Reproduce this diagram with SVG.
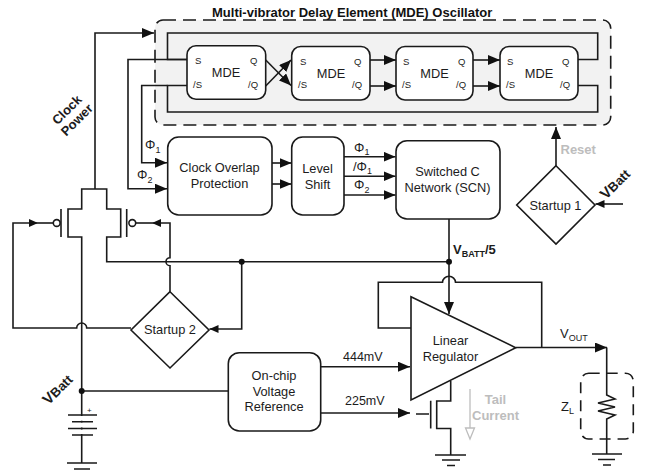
<svg xmlns="http://www.w3.org/2000/svg" width="650" height="473" viewBox="0 0 650 473">
<style>
text{font-family:"Liberation Sans",Arial,sans-serif;fill:#1c1c1c}
.l{font-size:12.800px;text-anchor:middle}
.p{font-size:9.500px}
.b{font-weight:bold}
.g{fill:#bdbdbd;font-weight:bold}
.s{font-size:9px}
.n{fill:#fff;stroke:#1a1a1a;stroke-width:1.600}
.w{fill:none;stroke:#1a1a1a;stroke-width:1.600}
.a{marker-end:url(#ah)}
.m{marker-end:url(#sm)}
.d{fill:none;stroke:#1a1a1a;stroke-width:1.600;stroke-dasharray:13 7}
</style>
<defs>
<marker id="ah" markerUnits="userSpaceOnUse" markerWidth="13" markerHeight="11" refX="12" refY="5" orient="auto"><path d="M0 0L12 5L0 10Z" fill="#111"/></marker>
<marker id="sm" markerUnits="userSpaceOnUse" markerWidth="10" markerHeight="9" refX="9" refY="4" orient="auto"><path d="M0 0L9 4L0 8Z" fill="#111"/></marker>
</defs>
<rect width="650" height="473" fill="#fff"/>
<text x="212" y="16.500" font-size="13" class="b" style="fill:#111">Multi-vibrator Delay Element (MDE) Oscillator</text>
<g id="oscillator-frame"><rect x="155" y="20" width="455.700" height="105" rx="8" fill="#f2f2f2" stroke="none"/><rect x="155" y="20" width="455.700" height="105" rx="8" class="d"/></g>
<g id="connectors">
<path class="w" d="M187 59.500H167.500V33H597.700V59.500H578M187 85.500H167.500V112H597.700V85.500H578"/>
<path class="w a" d="M187 59.500H128V188.700H167"/>
<path class="w a" d="M167.500 85.500H141.700V162.700H167"/>
<path class="w a" d="M95 189V33H154"/>
<path class="w a" d="M265.700 60L291 85.500"/>
<path class="w a" d="M265.700 86L291 60"/>
<path class="w a" d="M370 60H396"/><path class="w a" d="M370 86H396"/>
<path class="w a" d="M473 60H500"/><path class="w a" d="M473 86H500"/>
<path class="w a" d="M272 163H291.500"/><path class="w a" d="M272 184H291.500"/>
<path class="w a" d="M344 156.700H395.500"/><path class="w a" d="M344 176.200H395.500"/><path class="w a" d="M344 195H395.500"/>
<path class="w a" d="M556 165.700V127"/>
<path class="w m" d="M623 204H595.500"/>
<path class="w" d="M95 189H81.700V209H68V237H81.700V463"/>
<path class="w" d="M95 189H106.700V209H120.700V237H106.700V261.700H449"/>
<path class="w" d="M61 209V237M126.700 209V237"/>
<circle class="w" cx="56.700" cy="223" r="3.400" style="fill:#fff"/><circle class="w" cx="132.300" cy="223" r="3.400" style="fill:#fff"/>
<path class="w m" d="M131 328H86.700A5 5 0 0 0 76.700 328H13V223H38"/><path class="w" d="M38 223H53"/>
<path class="w m" d="M170 291.700V265.700A4 4 0 0 1 170 257.700V223H152"/><path class="w" d="M152 223H136"/>
<path class="w m" d="M241.700 261.700V329H209.500"/>
<circle cx="241.700" cy="261.700" r="3" fill="#111"/>
<path class="w" d="M81.700 391H228.500"/><circle cx="81.700" cy="391" r="3" fill="#111"/>
<path fill="#fff" d="M74 416H90V420.800H74ZM74 422.600H90V427.600H74ZM74 429.400H90V434.100H74Z"/>
<path class="w" d="M68 415H97M72 421.700H93M68 428.500H97M72 435H93M67 463H97M74 469H90"/>
<path class="w a" d="M320.700 366.700H410"/><path class="w a" d="M320.700 413H410"/>
<path class="w a" d="M449 219V314"/><circle cx="449" cy="261.700" r="3" fill="#111"/>
<path class="w" d="M411 328H378.300V282.300H442.500A6.500 6 0 0 1 455.500 282.300H541.700V347.500"/>
<path class="w a" d="M515.700 347.500H607"/>
<path class="w" d="M606.700 347.500V395L615 399L598 403L615 407L598 411L615 415L606.700 419V454M592 454H622M598 459.500H615M603 465H611"/>
<path class="w" d="M450.700 381V401H436.700V428.500H450.700V455M416 414H429M430.700 400.700V428.500M435 455H466M442 460H460M447 465.500H455"/>
<path fill="none" stroke="#bdbdbd" stroke-width="1.300" d="M470 389V428M465.500 428H474.500L470 439Z"/>
<rect x="580.700" y="373.300" width="52.600" height="65.700" rx="8" class="d" style="stroke-dasharray:11 7"/>
</g>
<g id="mde1"><rect class="n" x="187" y="45.700" width="78.700" height="53.600" rx="9"/><text class="l" x="226" y="77">MDE</text><text class="p" x="195" y="64">S</text><text class="p" x="193" y="88">/S</text><text class="p" x="250" y="64">Q</text><text class="p" x="248" y="88">/Q</text></g>
<g id="mde2"><rect class="n" x="291.700" y="46.500" width="78.300" height="53.500" rx="9"/><text class="l" x="331" y="77.500">MDE</text><text class="p" x="300" y="64.500">S</text><text class="p" x="298" y="88">/S</text><text class="p" x="354" y="64.500">Q</text><text class="p" x="352" y="88">/Q</text></g>
<g id="mde3"><rect class="n" x="396" y="46.500" width="77" height="53.500" rx="9"/><text class="l" x="434.500" y="77.500">MDE</text><text class="p" x="403" y="64.500">S</text><text class="p" x="402" y="88">/S</text><text class="p" x="458" y="64.500">Q</text><text class="p" x="456" y="88">/Q</text></g>
<g id="mde4"><rect class="n" x="500" y="46.500" width="78" height="53.500" rx="9"/><text class="l" x="539" y="77.500">MDE</text><text class="p" x="507" y="64.500">S</text><text class="p" x="506" y="88">/S</text><text class="p" x="562" y="64.500">Q</text><text class="p" x="560" y="88">/Q</text></g>
<g id="clock-overlap"><rect class="n" x="167.700" y="137" width="104.300" height="78" rx="11"/><text class="l" x="219.500" y="172">Clock Overlap</text><text class="l" x="219.500" y="188">Protection</text></g>
<g id="level-shift"><rect class="n" x="291.700" y="137" width="52.300" height="78" rx="11"/><text class="l" x="317.500" y="173">Level</text><text class="l" x="317.500" y="188.500">Shift</text></g>
<g id="scn"><rect class="n" x="396" y="140.700" width="104" height="78.300" rx="11"/><text class="l" x="447.500" y="176">Switched C</text><text class="l" x="447.500" y="191.500">Network (SCN)</text></g>
<g id="startup1"><path class="n" d="M556 165.700L595 205L556 244L516.700 205Z"/><text class="l" x="555.500" y="209.500">Startup 1</text></g>
<g id="startup2"><path class="n" d="M170 291.700L209 330L170 368L131 330Z"/><text class="l" x="170" y="334">Startup 2</text></g>
<g id="reference"><rect class="n" x="228.300" y="352.700" width="92.400" height="78.300" rx="11"/><text class="l" x="274" y="380">On-chip</text><text class="l" x="274" y="396">Voltage</text><text class="l" x="274" y="411">Reference</text></g>
<g id="regulator"><path class="n" d="M411 296.700L515.700 347.700L411 400Z"/><text class="l" x="450.500" y="345">Linear</text><text class="l" x="450.500" y="360.500">Regulator</text></g>
<g id="labels">
<text x="145" y="149" font-size="13">Φ<tspan class="s" dy="4">1</tspan></text>
<text x="137" y="179" font-size="13">Φ<tspan class="s" dy="4">2</tspan></text>
<text x="354" y="151.500" font-size="13">Φ<tspan class="s" dy="3">1</tspan></text>
<text x="353" y="170.500" font-size="13">/Φ<tspan class="s" dy="3">1</tspan></text>
<text x="354" y="189" font-size="13">Φ<tspan class="s" dy="3.500">2</tspan></text>
<text x="343" y="361" font-size="12.500">444mV</text>
<text x="345" y="405" font-size="12.500">225mV</text>
<text x="453" y="254" font-size="13" class="b">V<tspan font-size="9" dy="3">BATT</tspan><tspan dy="-3">/5</tspan></text>
<text x="560.500" y="153.500" font-size="13" class="g">Reset</text>
<text x="495.500" y="404" font-size="13" class="g" text-anchor="middle">Tail</text>
<text x="495.500" y="420" font-size="13" class="g" text-anchor="middle">Current</text>
<text x="560" y="338" font-size="13">V<tspan font-size="9" dy="3">OUT</tspan></text>
<text x="561" y="411" font-size="13">Z<tspan font-size="9" dy="3">L</tspan></text>
<text transform="translate(70 113) rotate(-45)" font-size="13" class="b" text-anchor="middle">Clock</text>
<text transform="translate(80 123) rotate(-45)" font-size="13" class="b" text-anchor="middle">Power</text>
<text transform="translate(606 200) rotate(-45)" font-size="15" class="b">V<tspan font-size="13">Batt</tspan></text>
<text transform="translate(48.500 405.500) rotate(-45)" font-size="15" class="b">V<tspan font-size="13">Batt</tspan></text>
<text x="87" y="413" font-size="8">+</text>
</g>
</svg>
